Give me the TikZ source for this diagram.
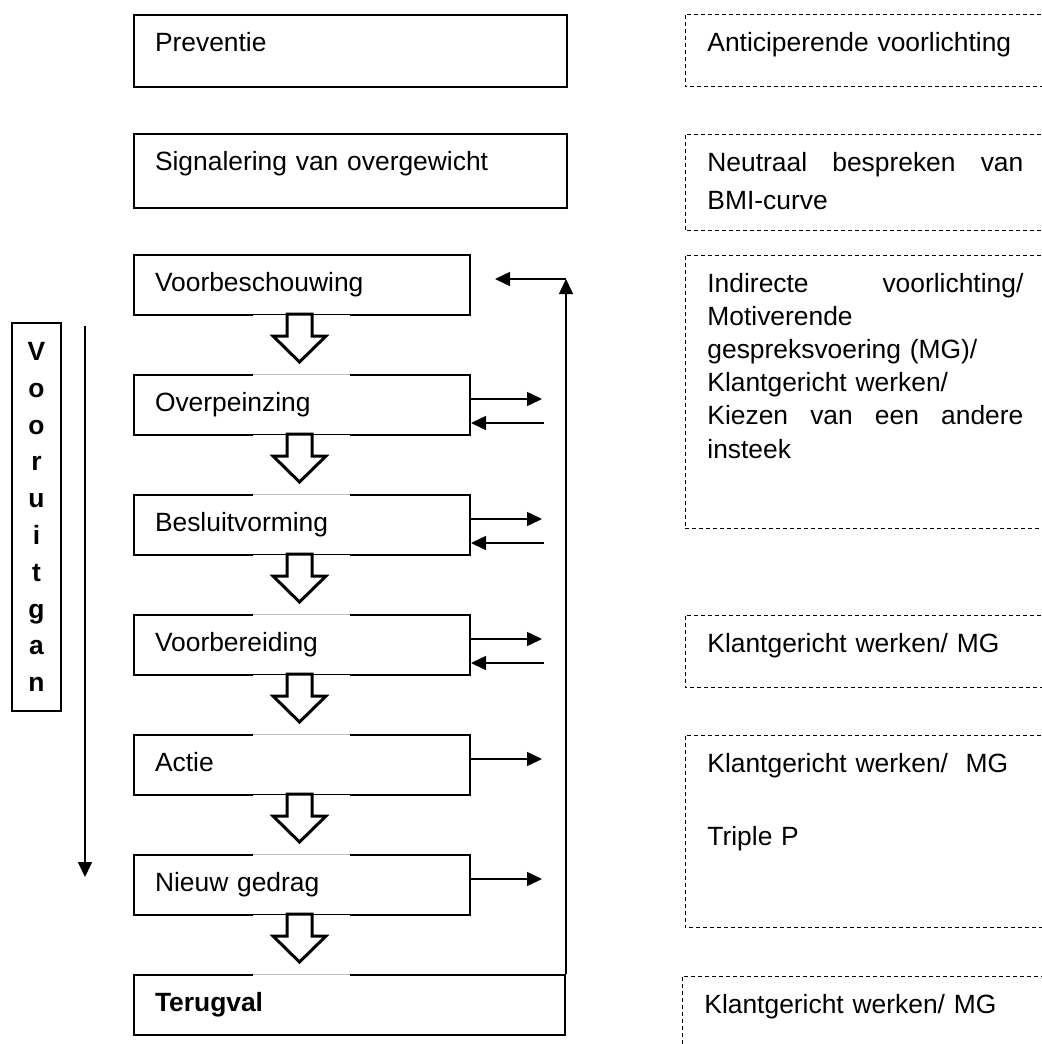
\documentclass[tikz,border=0pt]{standalone}
\usepackage{fontspec}
\setmainfont{Liberation Sans}
\usetikzlibrary{positioning, arrows.meta, calc}

\begin{document}
\begin{tikzpicture}[x=0.5pt, y=-0.5pt,
  font=\fontsize{13.2pt}{16pt}\selectfont,
  phase/.style={draw, line width=1pt, anchor=north west, align=left, text width=147pt,
    inner xsep=10.5pt, inner ysep=0pt, text height=18.3pt, text depth=11.7pt},
  aid/.style={anchor=north west, align=left, text width=180pt, inner xsep=11pt, inner ysep=0pt,
    text height=18.3pt},
  dashline/.style={dash pattern=on 2pt off 1.5pt, line width=0.5pt},
  conn/.style={line width=0.75pt, -{Triangle[length=7.5pt, width=7pt]}},
  hollow/.style={draw, line width=1.5pt, fill=white, line join=miter}]

\useasboundingbox (0,0) rectangle (1041,1044);

% Stages
\node[phase, text width=195.5pt, text depth=17.7pt] (prev) at (133,14) {Preventie};
\node[phase, text width=195.5pt, text depth=18.7pt] (sign) at (133,133) {Signalering van overgewicht};
\node[phase] (voor) at (133,254) {Voorbeschouwing};
\node[phase] (over) at (133,374) {Overpeinzing};
\node[phase] (besl) at (133,494) {Besluitvorming};
\node[phase] (voorb) at (133,614) {Voorbereiding};
\node[phase] (actie) at (133,734) {Actie};
\node[phase] (nieuw) at (133,854) {Nieuw gedrag};
\node[phase, text width=194.5pt] (terug) at (133,974) {\bfseries Terugval};

% Interventions (right side runs off the page)
\node[aid, text depth=17.7pt] (d1) at (685,14) {Anticiperende voorlichting};
\node[aid, text depth=29.7pt, font=\fontsize{13.2pt}{19pt}\selectfont] (d2) at (685,134)
  {\leavevmode\hbox to 158pt{Neutraal\hfill bespreken\hfill van}\\BMI-curve};
\node[aid, text depth=118.2pt, font=\fontsize{13.2pt}{16.6pt}\selectfont] (d3) at (685,255)
  {\leavevmode\hbox to 158pt{Indirecte\hfill voorlichting/}\\Motiverende\\gespreksvoering (MG)/\\Klantgericht werken/\\
   \leavevmode\hbox to 158pt{Kiezen\hfill van\hfill een\hfill andere}\\insteek};
\node[aid, text depth=17.7pt] (d4) at (685,615) {Klantgericht werken/ MG};
\node[aid, text depth=77.7pt, font=\fontsize{13.2pt}{18.25pt}\selectfont] (d5) at (685,735)
  {Klantgericht werken/\ \ MG\\[18.25pt]Triple P};
\node[aid, text depth=30pt] (d6) at (682,976) {Klantgericht werken/ MG};
\foreach \d in {d1, d2, d3, d4, d5, d6}
  \draw[dashline] (\d.north east) -- (\d.north west) -- (\d.south west) -- (\d.south east);

% Vooruitgang
\node[draw, line width=1pt, minimum width=24.5pt, minimum height=194pt, inner sep=0pt, align=center,
  font=\bfseries\fontsize{13.2pt}{18.4pt}\selectfont] (prog) at (36.5,517)
  {V\\o\\o\\r\\u\\i\\t\\g\\a\\n};
\coordinate (vtop) at (85,326);
\coordinate (vbot) at (85,877);
\draw[conn] (vtop) -- (vbot);

% Hollow arrows between stages
\foreach \a/\b in {voor/over, over/besl, besl/voorb, voorb/actie, actie/nieuw, nieuw/terug} {
  \fill[white] ($(\a.south west)+(120,-1.5)$) rectangle ($(\a.south west)+(217,1.5)$);
  \fill[white] ($(\b.north west)+(120,-1.5)$) rectangle ($(\b.north west)+(217,1.5)$);
  \draw[gray!50, line width=0.4pt] ($(\b.north west)+(120,0)$) -- ++(97,0);
  \draw[hollow] ($(\a.south west)+(154,-2)$) -- ++(25,0) -- ++(0,22) -- ++(14,0)
    -- ++(-26.5,26) -- ++(-26.5,-26) -- ++(14,0) -- cycle;
}

% Side arrows
\foreach \s in {over, besl, voorb, actie, nieuw}
  \draw[conn] ($(\s.east)+(0,-6)$) -- ++(71,0);
\foreach \s in {over, besl, voorb}
  \draw[conn] ($(\s.east)+(73,18)$) -- ($(\s.east)+(0,18)$);

% Relapse back to the start
\coordinate (vmid) at ($(voor.east)+(0,-6)$);
\coordinate (turn) at (vmid -| terug.north east);
\draw[conn] (terug.north east) -- (turn);
\draw[conn] (turn) -- ++(-71,0);

\end{tikzpicture}
\end{document}
